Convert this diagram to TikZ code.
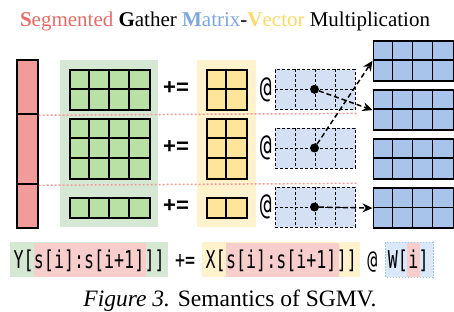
\documentclass[tikz,border=0pt]{standalone}
\usepackage{fontspec}
\setmainfont{Liberation Serif}
\newfontfamily\codefont[FakeStretch=0.68]{DejaVu Sans Mono}
\newfontfamily\opfont{Liberation Sans}
\usetikzlibrary{arrows.meta}
\pgfdeclarelayer{bg}\pgfdeclarelayer{mid}\pgfsetlayers{bg,mid,main}
\definecolor{redfill}{HTML}{F19C99}
\definecolor{greenfill}{HTML}{B9E0A5}
\definecolor{yellowfill}{HTML}{FFE599}
\definecolor{bluefill}{HTML}{A9C4EB}
\definecolor{wfill}{HTML}{D4E1F5}
\definecolor{greenbg}{HTML}{D5E8D4}
\definecolor{yellowbg}{HTML}{FFF2CC}
\definecolor{bluebg}{HTML}{DAE8FC}
\definecolor{redbg}{HTML}{F8CECC}
\definecolor{tred}{HTML}{EA6B66}
\definecolor{tblue}{HTML}{7EA6E0}
\definecolor{tyellow}{HTML}{FFD966}
\newcommand\gridmat[7]{%
  \node[#7, fill=#6, minimum width=#4*20pt, minimum height=#5*20pt, anchor=north west] (#1) at (#2,#3) {};
  \foreach \i in {1,...,#4}{\ifnum\i<#4
    \draw[#7] ([xshift=\i*20pt]#1.north west) -- ([xshift=\i*20pt]#1.south west);\fi}
  \foreach \j in {1,...,#5}{\ifnum\j<#5
    \draw[#7] ([yshift=-\j*20pt]#1.north west) -- ([yshift=-\j*20pt]#1.north east);\fi}
}
\begin{document}
\begin{tikzpicture}[x=1pt,y=-1pt,
  solidmat/.style={draw=black, line width=1.6pt, inner sep=0pt},
  dashmat/.style={draw=black, line width=0.8pt, dash pattern=on 3pt off 2pt, inner sep=0pt},
  bgbox/.style={inner sep=0pt, anchor=north west},
  redcell/.style={draw=black, line width=2pt, fill=redfill, inner sep=0pt, minimum width=20.7pt, anchor=north west},
  reddot/.style={draw=redfill, line width=1.5pt, dash pattern=on 2pt off 2pt},
  dotnode/.style={circle, fill=black, inner sep=0pt, minimum size=9pt},
  flow/.style={draw=black, line width=1.5pt, dash pattern=on 5pt off 3pt, -{Stealth[length=10pt,width=9pt]}},
  opnode/.style={font=\opfont\bfseries\fontsize{22}{22}\selectfont, inner sep=0pt},
  atnode/.style={font=\codefont\fontsize{29}{29}\selectfont, inner sep=0pt},
  code/.style={font=\codefont\fontsize{24.5}{24.5}\selectfont, inner sep=0pt, anchor=base west}]
\useasboundingbox (0,0) rectangle (454,312);
% title
\node[anchor=base, font=\fontsize{21}{21}\selectfont, inner sep=0pt] (title) at (225,26.7)
  {\textcolor{tred}{\textbf{S}egmented} \textbf{G}ather \textcolor{tblue}{\textbf{M}atrix}-\textcolor{tyellow}{\textbf{V}ector} Multiplication};
% backgrounds
\node[bgbox, fill=greenbg, minimum width=97.7pt, minimum height=166.7pt] (gbg) at (60,60) {};
\node[bgbox, fill=yellowbg, minimum width=59pt, minimum height=166.7pt] (ybg) at (196.7,60) {};
% red bar
\node[redcell, minimum height=54pt] (r1) at (16,59.3) {};
\node[redcell, minimum height=70pt] (r2) at (16,113.3) {};
\node[redcell, minimum height=44pt] (r3) at (16,183.3) {};
\coordinate (d1) at (357,113.3);
\coordinate (d2) at (357,183.3);
\draw[reddot] (r1.south east) -- (d1);
\draw[reddot] (r2.south east) -- (d2);
% green matrices
\gridmat{g1}{69}{69}{4}{2}{greenfill}{solidmat}
\gridmat{g2}{69}{118.3}{4}{3}{greenfill}{solidmat}
\gridmat{g3}{69}{197}{4}{1}{greenfill}{solidmat}
% yellow matrices
\gridmat{x1}{206}{69}{2}{2}{yellowfill}{solidmat}
\gridmat{x2}{206}{118.3}{2}{3}{yellowfill}{solidmat}
\gridmat{x3}{206}{197}{2}{1}{yellowfill}{solidmat}
% W matrices
\gridmat{w1}{275}{69.3}{4}{2}{wfill}{dashmat}
\gridmat{w2}{275}{128}{4}{2}{wfill}{dashmat}
\gridmat{w3}{275}{187}{4}{2}{wfill}{dashmat}
% output
\gridmat{y1}{372.5}{40}{4}{2}{bluefill}{solidmat}
\gridmat{y2}{372.5}{89.3}{4}{2}{bluefill}{solidmat}
\gridmat{y3}{372.5}{138.3}{4}{2}{bluefill}{solidmat}
\gridmat{y4}{372.5}{187.3}{4}{2}{bluefill}{solidmat}
% operators
\node[opnode] (p1) at (176,88.3) {+=};
\node[opnode] (p2) at (176,147.3) {+=};
\node[opnode] (p3) at (176,206) {+=};
\node[atnode] (a1) at (265.7,90) {@};
\node[atnode] (a2) at (265.7,148.3) {@};
\node[atnode] (a3) at (265.7,206.7) {@};
% dots and arrows
\node[dotnode] (k1) at (314.5,89.3) {};
\node[dotnode] (k2) at (314.5,148) {};
\node[dotnode] (k3) at (314.5,207) {};
\draw[flow] (k1) -- (y2.west);
\draw[flow] (k2) -- (y1.west);
\draw[flow] (k3) -- (y4.west);
% code line
\node[code] (c1) at (13.3,268) {Y[};
\node[code] (c2) at (c1.base east) {s[i]:s[i+1]};
\node[code] (c3) at (c2.base east) {]]};
\node[code] (c4) at (c3.base east) {\hphantom{x}+=\hphantom{x}};
\node[code] (c5) at (c4.base east) {X[};
\node[code] (c6) at (c5.base east) {s[i]:s[i+1]};
\node[code] (c7) at (c6.base east) {]]};
\node[code] (c8) at (c7.base east) {\hphantom{x}@\hphantom{x}};
\node[code] (c9) at (c8.base east) {W[};
\node[code] (c10) at (c9.base east) {i};
\node[code] (c11) at (c10.base east) {]};
\begin{pgfonlayer}{bg}
\fill[greenbg] ([xshift=-3.3pt]c1.west |- 0,242.3) rectangle ([xshift=3.2pt]c3.east |- 0,277.3);
\fill[yellowbg] ([xshift=-3.4pt]c5.west |- 0,242.3) rectangle ([xshift=2.8pt]c7.east |- 0,277.3);
\filldraw[fill=bluebg, draw=bluefill, line width=0.6pt, dash pattern=on 1.5pt off 1.5pt] ([xshift=-2pt]c9.west |- 0,242.3) rectangle ([xshift=4pt]c11.east |- 0,277.3);
\end{pgfonlayer}
\begin{pgfonlayer}{mid}
\fill[redbg] ([xshift=0.5pt]c2.west |- 0,243.3) rectangle ([xshift=2pt]c2.east |- 0,277.3);
\fill[redbg] ([xshift=0.5pt]c6.west |- 0,243.3) rectangle ([xshift=2pt]c6.east |- 0,277.3);
\fill[redbg] ([xshift=-1.5pt]c10.west |- 0,243.3) rectangle ([xshift=1pt]c10.east |- 0,277.3);
\end{pgfonlayer}
% caption
\node[anchor=base, font=\fontsize{23.5}{23.5}\selectfont, inner sep=0pt] (cap) at (230,306.7) {\textit{Figure 3.} Semantics of SGMV.};
\end{tikzpicture}
\end{document}
